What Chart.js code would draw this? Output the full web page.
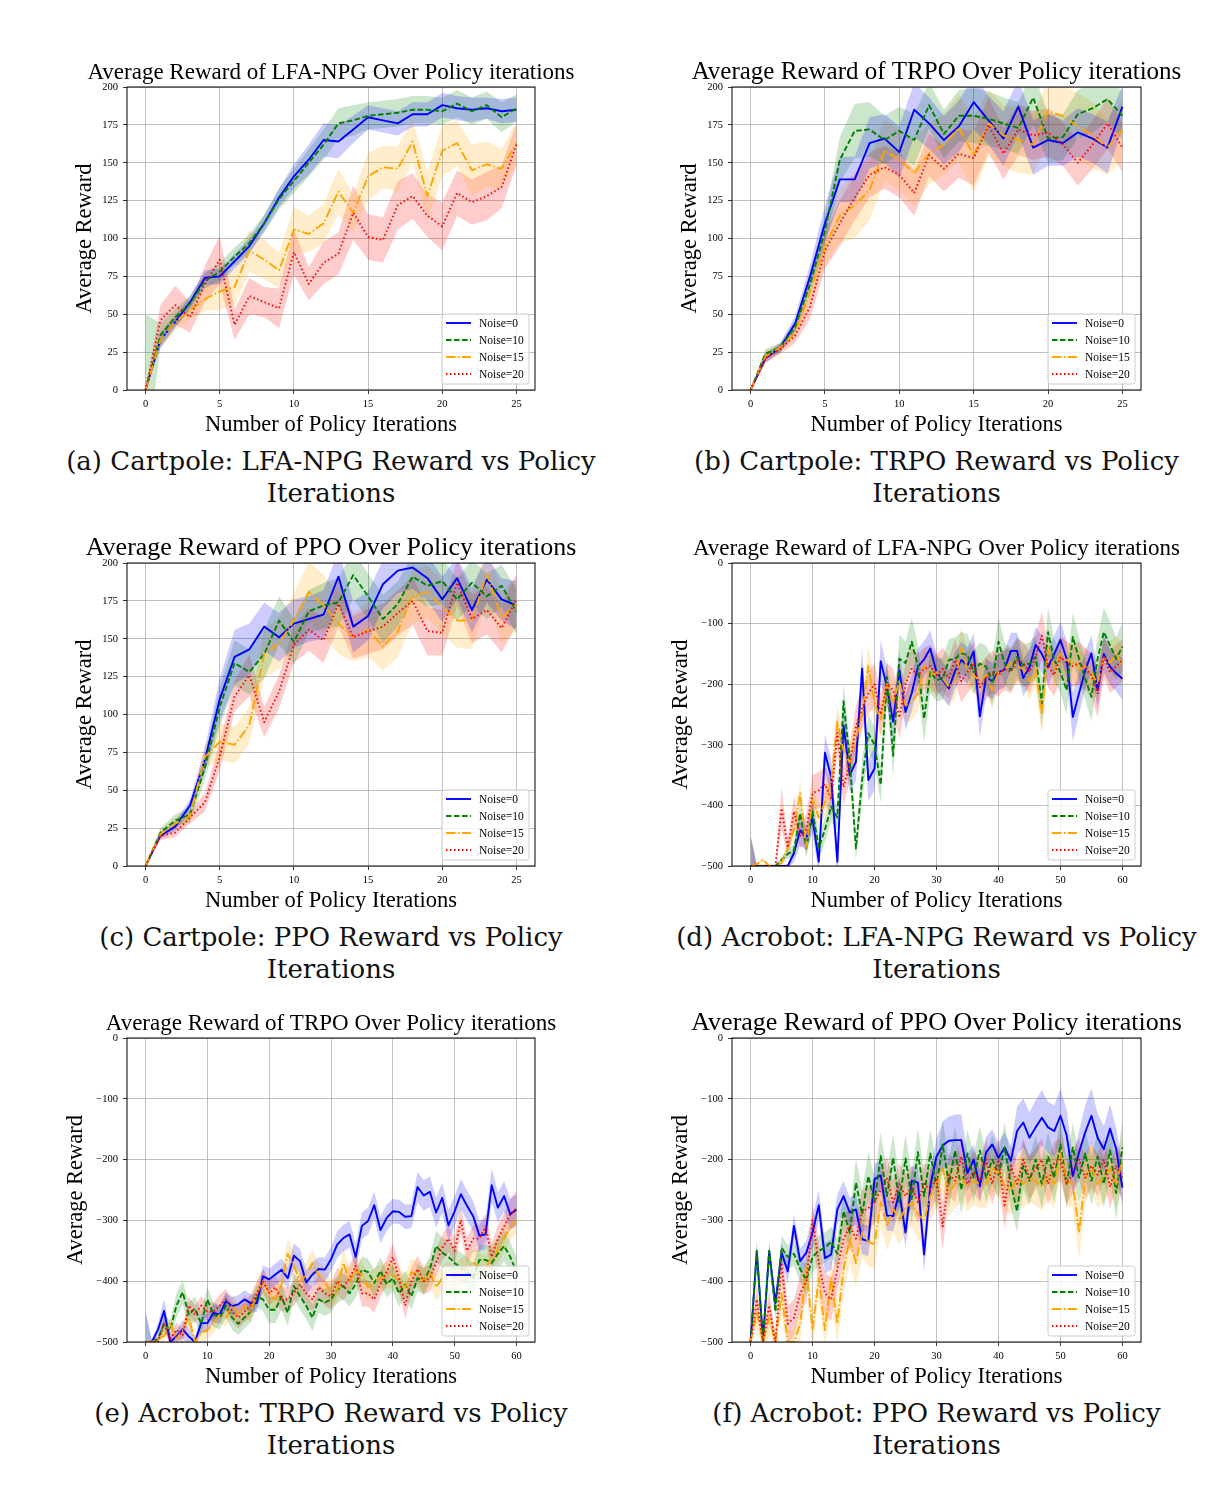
<!DOCTYPE html>
<html>
<head>
<meta charset="utf-8">
<script src="https://cdn.jsdelivr.net/npm/chart.js@4.4.1/dist/chart.umd.min.js"></script>
<style>
  body { margin: 0; background: #fff; width: 1226px; height: 1486px; position: relative; overflow: hidden; }
  canvas { position: absolute; }
  .cap { position: absolute; width: 620px; text-align: center; font-family: 'DejaVu Serif', serif; font-size: 26px; line-height: 32px; color: #111; white-space: nowrap; }
</style>
</head>
<body>
<script>
// 横軸（反復回数）と目盛り
const iterCart = [0,1,2,3,4,5,6,7,8,9,10,11,12,13,14,15,16,17,18,19,20,21,22,23,24,25];
const iterAcro = [0,1,2,3,4,5,6,7,8,9,10,11,12,13,14,15,16,17,18,19,20,21,22,23,24,25,26,27,28,29,30,
                  31,32,33,34,35,36,37,38,39,40,41,42,43,44,45,46,47,48,49,50,51,52,53,54,55,56,57,58,59,60];
const tickXCart = [0, 5, 10, 15, 20, 25];
const tickXAcro = [0, 10, 20, 30, 40, 50, 60];
const tickYCart = [0, 25, 50, 75, 100, 125, 150, 175, 200];
const tickYAcro = [-500, -400, -300, -200, -100, 0];
const noiseLabels = ['Noise=0', 'Noise=10', 'Noise=15', 'Noise=20'];

// (a) Cartpole LFA-NPG : 平均と標準偏差
const cpNpg0 = [0,33,45,58,74,75,85,95,110,127,141,152,165,164,172,180,178,176,182,182,188,186,185,186,184,185];
const cpNpg0Sd = [0,5,4,4,5,5,5,5,5,6,8,10,11,11,9,8,8,8,8,8,8,8,8,7,8,8];
const cpNpg10 = [0,36,48,57,72,78,88,97,110,126,138,150,162,176,178,181,182,183,185,185,184,189,184,188,180,186];
const cpNpg10Sd = [50,8,6,5,5,6,6,6,6,7,8,9,10,10,10,9,9,9,9,9,9,9,9,9,10,9];
const cpNpg15 = [0,33,45,53,60,65,68,92,86,79,106,103,110,131,117,141,147,146,164,128,158,163,145,149,146,163];
const cpNpg15Sd = [0,6,6,6,8,12,12,14,13,12,15,12,13,15,12,16,14,15,14,16,17,15,17,15,13,14];
const cpNpg20 = [0,46,56,48,70,86,43,62,58,54,91,70,84,90,117,101,99,122,128,115,108,130,124,128,134,162];
const cpNpg20Sd = [0,10,13,10,12,16,10,12,10,13,15,11,14,14,18,15,15,16,15,14,16,15,15,16,14,14];

// (b) Cartpole TRPO
const cpTrpo0 = [0,21,28,44,75,110,139,139,163,166,157,185,176,165,174,190,178,166,187,160,165,163,170,166,160,187];
const cpTrpo0Sd = [0,3,3,5,8,12,15,15,17,16,17,18,17,16,17,18,16,18,18,18,17,15,16,16,17,14];
const cpTrpo10 = [0,24,28,42,70,105,152,171,172,165,171,165,188,169,181,181,179,176,173,193,166,167,182,186,192,181];
const cpTrpo10Sd = [0,3,3,4,7,10,15,18,18,16,16,17,15,16,17,18,18,17,17,18,16,15,16,16,15,16];
const cpTrpo15 = [0,22,28,38,65,95,115,122,132,158,152,143,156,162,173,155,176,168,165,162,184,181,174,168,160,172];
const cpTrpo15Sd = [0,4,3,4,8,12,18,22,20,20,20,22,20,20,22,25,22,20,22,20,20,20,22,22,18,20];
const cpTrpo20 = [0,21,27,36,55,92,110,127,142,147,142,130,155,146,156,153,175,156,172,168,170,162,150,162,176,160];
const cpTrpo20Sd = [0,3,3,5,8,12,15,15,15,14,15,15,14,15,16,18,18,17,17,16,16,14,15,16,17,16];

// (c) Cartpole PPO
const cpPpo0 = [0,20,26,40,70,110,138,143,158,151,160,163,166,191,158,165,186,195,197,190,176,190,169,189,176,172];
const cpPpo0Sd = [0,2,3,4,8,14,18,17,16,16,16,15,16,17,17,16,16,15,14,15,15,14,15,15,14,16];
const cpPpo10 = [0,22,30,34,65,105,134,128,140,162,148,168,172,174,192,178,163,173,191,185,188,176,187,178,185,168];
const cpPpo10Sd = [0,3,4,5,8,13,15,15,16,16,15,14,15,16,16,15,16,15,14,14,15,14,15,15,14,15];
const cpPpo15 = [0,21,28,33,72,82,80,93,140,147,162,181,172,160,151,156,145,155,178,181,171,162,162,193,164,173];
const cpPpo15Sd = [0,3,4,5,8,12,12,12,16,17,18,20,20,20,16,18,16,17,18,17,18,18,19,18,17,18];
const cpPpo20 = [0,20,22,32,42,72,112,126,95,115,146,156,149,173,151,155,158,167,175,155,154,187,163,169,157,176];
const cpPpo20Sd = [0,3,3,4,6,9,10,14,10,11,12,14,15,15,14,15,15,15,16,16,15,15,16,16,16,17];

// (d) Acrobot LFA-NPG
const acNpg0 = [-500,-500,-500,-500,-500,-500,-500,-479,-441,-454,
  -421,-493,-313,-353,-493,-268,-350,-328,-174,-358,
  -339,-162,-204,-262,-177,-246,-215,-171,-159,-141,
  -180,-193,-207,-178,-160,-169,-146,-253,-188,-195,
  -180,-175,-145,-145,-190,-172,-135,-150,-172,-150,
  -127,-158,-254,-215,-177,-149,-210,-150,-171,-182,-191];
const acNpg0Sd = [50,2,2,2,2,2,3,15,25,20,
  25,20,30,30,25,35,30,30,35,35,
  35,35,30,30,30,30,30,30,30,30,
  30,30,30,30,30,30,30,35,30,30,
  30,30,30,30,30,30,30,30,30,30,
  30,30,40,35,30,30,30,30,30,30,35];
const acNpg10 = [-500,-500,-500,-500,-500,-490,-480,-475,-413,-471,
  -410,-470,-440,-402,-420,-228,-325,-471,-358,-281,
  -300,-366,-188,-318,-158,-165,-130,-170,-257,-180,
  -193,-191,-160,-158,-149,-152,-180,-166,-171,-196,
  -130,-166,-177,-155,-169,-166,-155,-232,-114,-160,
  -180,-210,-122,-158,-191,-221,-158,-114,-136,-158,-138];
const acNpg10Sd = [50,2,2,2,2,5,8,10,20,15,
  25,20,20,25,20,30,30,20,35,30,
  30,30,35,35,40,35,40,35,40,35,
  35,35,35,35,35,35,35,35,35,40,
  40,35,35,35,35,35,35,40,40,35,
  35,40,40,35,35,40,35,40,40,35,40];
const acNpg15 = [-500,-497,-490,-500,-500,-495,-470,-440,-380,-470,
  -390,-420,-395,-360,-262,-310,-330,-290,-250,-170,
  -230,-260,-200,-230,-195,-235,-230,-215,-170,-185,
  -180,-190,-205,-195,-140,-175,-185,-195,-185,-210,
  -180,-175,-165,-170,-175,-195,-175,-250,-140,-175,
  -150,-160,-165,-175,-170,-180,-200,-155,-165,-150,-170];
const acNpg15Sd = [0,3,3,2,2,5,10,15,20,15,
  20,20,20,25,25,30,30,30,30,35,
  35,30,30,30,30,30,30,30,30,30,
  30,30,30,30,35,30,30,30,30,30,
  30,30,30,30,30,30,30,35,35,30,
  30,30,30,30,30,30,30,30,35,30,35];
const acNpg20 = [-500,-500,-500,-500,-500,-405,-470,-410,-450,-440,
  -380,-375,-365,-390,-280,-370,-330,-270,-240,-215,
  -200,-250,-200,-210,-255,-200,-175,-185,-175,-170,
  -185,-175,-190,-160,-195,-180,-165,-205,-190,-180,
  -185,-175,-180,-160,-165,-180,-155,-120,-170,-185,
  -155,-165,-170,-165,-175,-185,-215,-155,-180,-170,-160];
const acNpg20Sd = [50,2,2,2,2,35,15,25,20,25,
  30,30,30,30,30,30,30,35,35,35,
  35,35,35,35,35,35,35,35,35,35,
  35,35,35,35,35,35,35,35,35,35,
  35,35,35,35,35,35,35,40,35,35,
  35,35,35,35,35,35,40,35,35,35,35];

// (e) Acrobot TRPO
const acTrpo0 = [-500,-500,-480,-449,-500,-491,-479,-491,-500,-469,
  -469,-452,-455,-433,-441,-438,-430,-436,-436,-392,
  -397,-389,-381,-395,-358,-367,-402,-389,-380,-381,
  -364,-340,-329,-323,-360,-309,-301,-275,-316,-296,
  -285,-286,-294,-293,-245,-259,-253,-287,-263,-308,
  -285,-257,-276,-293,-325,-323,-242,-279,-260,-290,-282];
const acTrpo0Sd = [50,3,10,20,10,10,15,15,8,15,
  15,15,15,15,15,15,15,15,15,18,
  18,18,18,18,20,20,20,20,20,20,
  20,22,22,22,22,22,22,22,22,22,
  20,20,20,20,25,25,25,25,25,25,
  25,25,25,25,25,25,28,25,25,25,25];
const acTrpo10 = [-500,-500,-495,-470,-480,-440,-418,-455,-445,-470,
  -430,-455,-460,-440,-460,-470,-460,-450,-425,-430,
  -447,-447,-425,-452,-408,-425,-441,-460,-430,-435,
  -430,-414,-408,-420,-405,-381,-385,-403,-383,-405,
  -395,-420,-405,-425,-395,-400,-380,-342,-353,-360,
  -370,-378,-385,-395,-365,-365,-370,-355,-342,-360,-385];
const acTrpo10Sd = [50,3,5,15,15,20,20,20,20,20,
  20,20,20,20,20,18,18,18,18,20,
  22,22,22,22,22,22,22,22,22,22,
  22,22,22,22,22,22,22,22,22,22,
  22,22,22,22,22,22,22,25,25,25,
  25,25,25,25,25,25,25,25,25,25,25];
const acTrpo15 = [-500,-500,-495,-490,-470,-495,-480,-460,-500,-485,
  -480,-470,-455,-460,-440,-455,-440,-450,-420,-400,
  -420,-430,-405,-355,-375,-400,-390,-370,-390,-400,
  -420,-415,-370,-400,-380,-390,-410,-400,-395,-390,
  -390,-400,-410,-385,-390,-400,-385,-410,-395,-390,
  -395,-385,-375,-370,-375,-380,-360,-350,-330,-310,-300];
const acTrpo15Sd = [0,3,5,8,10,10,12,15,10,15,
  15,15,15,15,18,18,18,18,20,20,
  20,22,22,25,25,25,22,22,22,22,
  22,22,25,22,22,22,22,22,22,22,
  22,22,22,22,22,22,22,22,22,22,
  22,22,22,22,22,22,22,22,22,22,22];
const acTrpo20 = [-500,-500,-500,-470,-495,-480,-490,-440,-455,-440,
  -450,-450,-440,-430,-450,-460,-450,-440,-420,-400,
  -420,-410,-430,-430,-420,-405,-420,-430,-410,-420,
  -425,-400,-410,-395,-375,-420,-420,-430,-405,-385,
  -360,-395,-440,-400,-380,-400,-395,-370,-345,-330,
  -350,-300,-350,-330,-330,-310,-360,-330,-310,-290,-280];
const acTrpo20Sd = [0,3,5,10,10,12,12,15,15,15,
  15,15,18,18,18,18,18,18,20,20,
  20,20,20,20,20,20,20,20,20,20,
  22,22,22,22,22,22,22,22,22,22,
  22,22,22,22,22,22,22,22,22,22,
  22,22,22,22,22,22,22,22,22,25,30];

// (f) Acrobot PPO
const acPpo0 = [-500,-351,-496,-351,-436,-353,-384,-309,-367,-353,
  -320,-275,-362,-356,-282,-260,-287,-282,-331,-334,
  -232,-226,-292,-293,-254,-320,-235,-238,-356,-243,
  -195,-177,-169,-168,-168,-222,-200,-244,-188,-175,
  -197,-180,-202,-153,-139,-164,-147,-131,-147,-153,
  -128,-160,-227,-188,-155,-128,-164,-183,-149,-183,-246];
const acPpo0Sd = [0,15,10,15,15,15,20,20,20,20,
  25,25,25,25,25,25,25,25,25,25,
  25,25,25,25,25,25,25,25,30,25,
  30,40,40,42,42,30,25,25,25,25,
  25,25,25,40,40,42,45,45,42,42,
  45,42,30,35,45,45,40,38,40,35,35];
const acPpo10 = [-500,-350,-500,-350,-450,-345,-360,-355,-380,-398,
  -360,-350,-345,-335,-355,-285,-320,-238,-290,-227,
  -270,-194,-260,-197,-270,-198,-265,-188,-260,-190,
  -245,-175,-240,-185,-250,-190,-230,-185,-230,-200,
  -225,-180,-240,-285,-210,-235,-200,-240,-195,-230,
  -175,-240,-180,-230,-190,-235,-195,-240,-185,-255,-180];
const acPpo10Sd = [0,15,10,15,15,20,20,20,20,25,
  25,25,25,25,25,30,30,40,40,40,
  40,40,40,40,40,40,40,40,40,40,
  40,40,40,40,40,40,40,40,40,40,
  40,40,40,35,40,40,40,40,40,40,
  40,40,40,40,40,40,40,40,40,45,45];
const acPpo15 = [-500,-450,-500,-460,-500,-420,-500,-500,-470,-380,
  -480,-395,-480,-395,-470,-380,-330,-370,-320,-335,
  -340,-270,-310,-280,-300,-280,-270,-290,-300,-260,
  -240,-215,-255,-240,-230,-245,-235,-240,-240,-215,
  -220,-245,-250,-230,-240,-230,-235,-245,-225,-240,
  -190,-235,-240,-320,-230,-210,-240,-230,-215,-240,-200];
const acPpo15Sd = [0,30,10,30,10,35,20,20,30,35,
  30,35,30,35,35,40,40,40,40,40,
  40,40,40,40,40,40,40,40,40,40,
  40,40,40,40,40,40,40,40,40,40,
  40,40,40,40,40,40,40,40,40,40,
  40,40,40,45,40,40,40,40,40,40,40];
const acPpo20 = [-500,-430,-500,-440,-500,-370,-470,-460,-420,-400,
  -300,-370,-420,-430,-380,-330,-310,-330,-285,-280,
  -270,-250,-230,-270,-240,-260,-245,-270,-240,-250,
  -230,-310,-225,-235,-195,-240,-220,-235,-200,-240,
  -200,-275,-210,-240,-200,-230,-215,-200,-240,-205,
  -200,-240,-220,-200,-230,-210,-225,-200,-245,-210,-230];
const acPpo20Sd = [0,25,10,25,10,30,30,30,30,35,
  30,35,35,35,35,35,35,35,35,35,
  35,35,35,35,35,35,35,35,35,35,
  35,40,35,35,35,35,35,35,35,35,
  35,40,35,35,35,35,35,35,35,35,
  35,35,35,35,35,35,35,35,35,35,35];

// 系列の見た目（matplotlib風）
const lineColors = ['#0000ff', '#008000', '#ffa500', '#ff0000'];
const fillColors = ['rgba(0,0,255,0.2)', 'rgba(0,128,0,0.2)', 'rgba(255,165,0,0.2)', 'rgba(255,0,0,0.2)'];
const dashes = [[], [5.5, 2.5], [9.5, 2.5, 1.5, 2.5], [1.5, 2.5]];

Chart.defaults.font.family = "'Liberation Serif', 'Times New Roman', serif";
Chart.defaults.color = '#000';

const minus = v => (v < 0 ? '\u2212' + (-v) : String(v));

// 枠・タイトル・凡例を描くプラグイン
function decoPlugin(title, titleSize) {
  return {
    id: 'deco',
    afterDraw(chart) {
      const ctx = chart.ctx, a = chart.chartArea;
      ctx.save();
      ctx.strokeStyle = '#000';
      ctx.lineWidth = 1;
      ctx.strokeRect(a.left, a.top, a.right - a.left, a.bottom - a.top);

      ctx.fillStyle = '#000';
      ctx.font = titleSize + "px 'Liberation Serif'";
      ctx.textAlign = 'center';
      ctx.textBaseline = 'middle';
      ctx.fillText(title, (a.left + a.right) / 2, a.top - 14.5);

      // 凡例（右下）
      const bw = 87, bh = 70;
      const bx = a.right - 6 - bw, by = a.bottom - 6 - bh;
      ctx.beginPath();
      ctx.roundRect(bx, by, bw, bh, 2.5);
      ctx.fillStyle = 'rgba(255,255,255,0.8)';
      ctx.fill();
      ctx.strokeStyle = '#cccccc';
      ctx.lineWidth = 1;
      ctx.stroke();
      const lines = chart.data.datasets.filter(d => d.isMean);
      lines.forEach((d, i) => {
        const y = by + 9 + i * 17;
        ctx.beginPath();
        ctx.setLineDash(d.borderDash);
        ctx.strokeStyle = d.borderColor;
        ctx.lineWidth = d.borderWidth;
        ctx.moveTo(bx + 4, y);
        ctx.lineTo(bx + 29, y);
        ctx.stroke();
        ctx.setLineDash([]);
        ctx.fillStyle = '#000';
        ctx.font = "11.5px 'Liberation Serif'";
        ctx.textAlign = 'left';
        ctx.fillText(d.label, bx + 37, y + 0.5);
      });
      ctx.restore();
    }
  };
}

function makePanel(p) {
  const padL = 75, padT = 40, padR = 60, padB = 50;
  const cv = document.createElement('canvas');
  cv.width = p.box.w + padL + padR;
  cv.height = p.box.h + padT + padB;
  cv.style.left = (p.box.x - padL) + 'px';
  cv.style.top = (p.box.y - padT) + 'px';
  document.body.appendChild(cv);

  const pts = arr => arr.map((v, i) => ({x: p.iters[i], y: v}));
  const datasets = [];
  p.means.forEach((m, k) => {
    const sd = p.sds[k];
    datasets.push({data: pts(m.map((v, i) => v + sd[i])), borderWidth: 0, borderColor: 'rgba(0,0,0,0)',
      pointRadius: 0, fill: '+1', backgroundColor: fillColors[k], order: 10});
    datasets.push({data: pts(m.map((v, i) => v - sd[i])), borderWidth: 0, borderColor: 'rgba(0,0,0,0)',
      pointRadius: 0, fill: false, order: 10});
  });
  p.means.forEach((m, k) => {
    datasets.push({label: noiseLabels[k], isMean: true, data: pts(m), borderColor: lineColors[k],
      borderWidth: 1.9, borderDash: dashes[k], borderJoinStyle: 'round', pointRadius: 0, tension: 0,
      fill: false, order: 4 - k});
  });

  new Chart(cv.getContext('2d'), {
    type: 'line',
    data: {datasets},
    options: {
      responsive: false,
      animation: false,
      layout: {padding: {left: 0, top: padT, right: padR, bottom: 0}},
      plugins: {legend: {display: false}, tooltip: {enabled: false}},
      scales: {
        x: {
          type: 'linear', min: p.xmin, max: p.xmax,
          afterBuildTicks: s => { s.ticks = p.xt.map(v => ({value: v})); },
          afterFit: s => { s.height = padB; },
          grid: {color: '#b0b0b0', lineWidth: 0.8, tickColor: '#000', tickLength: 4},
          border: {display: false},
          ticks: {font: {size: 10.5}, color: '#000', padding: 4, maxRotation: 0, autoSkip: false, callback: minus},
          title: {display: true, text: 'Number of Policy Iterations', color: '#000',
            font: {size: 22.5, lineHeight: 1}, padding: {top: 0, bottom: 4}}
        },
        y: {
          type: 'linear', min: p.ymin, max: p.ymax,
          afterBuildTicks: s => { s.ticks = p.yt.map(v => ({value: v})); },
          afterFit: s => { s.width = padL; },
          grid: {color: '#b0b0b0', lineWidth: 0.8, tickColor: '#000', tickLength: 4},
          border: {display: false},
          ticks: {font: {size: 10.5}, color: '#000', padding: 5, autoSkip: false, callback: minus},
          title: {display: true, text: 'Average Reward', color: '#000',
            font: {size: 22.5, lineHeight: 1}, padding: {top: p.yPad, bottom: 0}}
        }
      }
    },
    plugins: [decoPlugin(p.title, p.tsize)]
  });

  const cap = document.createElement('div');
  cap.className = 'cap';
  cap.style.left = (p.box.x + p.box.w / 2 - 310) + 'px';
  cap.style.top = (p.box.y + p.box.h + 55) + 'px';
  cap.innerHTML = p.caption + '<br>Iterations';
  document.body.appendChild(cap);
}

const colX = [127, 732], colW = [408, 409];
const rowY = [87, 563, 1038], rowH = [303, 303, 304];
const boxOf = (c, r) => ({x: colX[c], y: rowY[r], w: colW[c], h: rowH[r]});
const cartOpts = {iters: iterCart, xt: tickXCart, yt: tickYCart, xmin: -1.25, xmax: 26.25, ymin: 0, ymax: 200};
const acroOpts = {iters: iterAcro, xt: tickXAcro, yt: tickYAcro, xmin: -3, xmax: 63, ymin: -500, ymax: 0};

const panels = [
  Object.assign({box: boxOf(0, 0), title: 'Average Reward of LFA-NPG Over Policy iterations', tsize: 23, yPad: 22,
    caption: '(a) Cartpole: LFA-NPG Reward vs Policy',
    means: [cpNpg0, cpNpg10, cpNpg15, cpNpg20], sds: [cpNpg0Sd, cpNpg10Sd, cpNpg15Sd, cpNpg20Sd]}, cartOpts),
  Object.assign({box: boxOf(1, 0), title: 'Average Reward of TRPO Over Policy iterations', tsize: 25, yPad: 22,
    caption: '(b) Cartpole: TRPO Reward vs Policy',
    means: [cpTrpo0, cpTrpo10, cpTrpo15, cpTrpo20], sds: [cpTrpo0Sd, cpTrpo10Sd, cpTrpo15Sd, cpTrpo20Sd]}, cartOpts),
  Object.assign({box: boxOf(0, 1), title: 'Average Reward of PPO Over Policy iterations', tsize: 26, yPad: 22,
    caption: '(c) Cartpole: PPO Reward vs Policy',
    means: [cpPpo0, cpPpo10, cpPpo15, cpPpo20], sds: [cpPpo0Sd, cpPpo10Sd, cpPpo15Sd, cpPpo20Sd]}, cartOpts),
  Object.assign({box: boxOf(1, 1), title: 'Average Reward of LFA-NPG Over Policy iterations', tsize: 23, yPad: 13,
    caption: '(d) Acrobot: LFA-NPG Reward vs Policy',
    means: [acNpg0, acNpg10, acNpg15, acNpg20], sds: [acNpg0Sd, acNpg10Sd, acNpg15Sd, acNpg20Sd]}, acroOpts),
  Object.assign({box: boxOf(0, 2), title: 'Average Reward of TRPO Over Policy iterations', tsize: 23, yPad: 13,
    caption: '(e) Acrobot: TRPO Reward vs Policy',
    means: [acTrpo0, acTrpo10, acTrpo15, acTrpo20], sds: [acTrpo0Sd, acTrpo10Sd, acTrpo15Sd, acTrpo20Sd]}, acroOpts),
  Object.assign({box: boxOf(1, 2), title: 'Average Reward of PPO Over Policy iterations', tsize: 26, yPad: 13,
    caption: '(f) Acrobot: PPO Reward vs Policy',
    means: [acPpo0, acPpo10, acPpo15, acPpo20], sds: [acPpo0Sd, acPpo10Sd, acPpo15Sd, acPpo20Sd]}, acroOpts)
];

panels.forEach(makePanel);
</script>
</body>
</html>
